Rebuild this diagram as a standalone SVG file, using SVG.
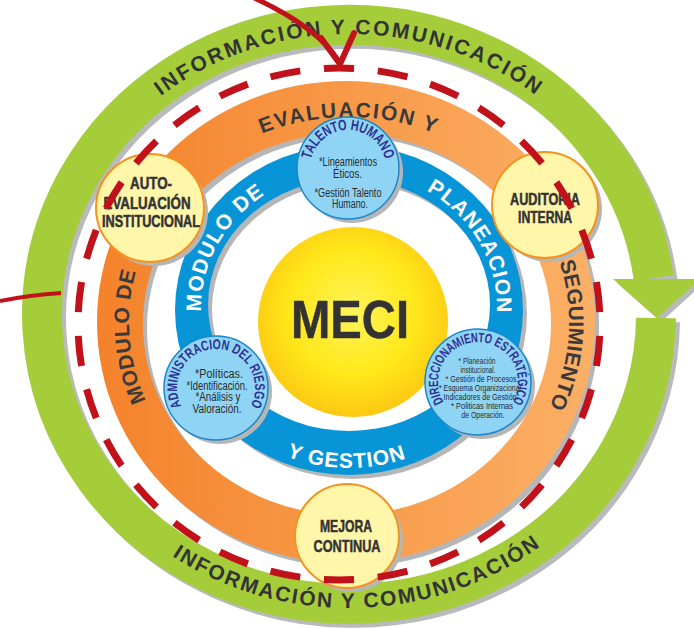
<svg xmlns="http://www.w3.org/2000/svg" width="694" height="629" viewBox="0 0 694 629">
<style>
.sh{fill:#b5b6b8}
.pale{fill:#fff6aa;stroke:#f6921e;stroke-width:2}
.lblue{fill:#8fd4f5;stroke:#1b87c9;stroke-width:1.5}
.band{font-family:"Liberation Sans",Arial,sans-serif;font-weight:bold;font-size:21px;fill:#3a3a3a}
.wband{font-family:"Liberation Sans",Arial,sans-serif;font-weight:bold;font-size:21px;fill:#ffffff}
.gband{font-family:"Liberation Sans",Arial,sans-serif;font-weight:bold;font-size:21px;fill:#333333}
.heavy{font-family:"Liberation Sans Narrow","Liberation Sans",Arial,sans-serif;font-weight:bold;fill:#333333;stroke:#333333;stroke-width:0.5;text-anchor:middle}
.nar{font-family:"Liberation Sans Narrow","Liberation Sans",Arial,sans-serif;fill:#2b2b2b;text-anchor:middle}
.arc{font-family:"Liberation Sans Narrow","Liberation Sans",Arial,sans-serif;font-weight:bold;fill:#2e3192}
.red{fill:none;stroke:#c1121c}
</style>
<defs>
  <linearGradient id="og" x1="0" y1="0" x2="1" y2="0">
    <stop offset="0" stop-color="#f4822b"/>
    <stop offset="1" stop-color="#fbb066"/>
  </linearGradient>
  <radialGradient id="yg" cx="0.5" cy="0.45" r="0.55">
    <stop offset="0" stop-color="#fff45a"/>
    <stop offset="0.6" stop-color="#ffe81a"/>
    <stop offset="1" stop-color="#fcc813"/>
  </radialGradient>
  <path id="pGreenTop" d="M349,594 A300 280 0 0 1 349,34 A300 280 0 0 1 349,594"/>
  <path id="pGreenBot" d="M37,314 A312 294 0 0 0 661,314"/>
  <path id="pOrange" d="M349,527 A220 205 0 0 1 349,117 A220 205 0 0 1 349,527"/>
  <path id="pBlue" d="M349,446 A148 138 0 0 1 349,170 A148 138 0 0 1 349,446"/>
  <path id="pBlueBot" d="M181,307 A168 161 0 0 0 517,307"/>
  <path id="pTal" d="M348,206 A38 38 0 0 1 348,130 A38 38 0 0 1 348,206"/>
  <path id="pAdm" d="M216,427 A39 39 0 0 1 216,349 A39 39 0 0 1 216,427"/>
  <path id="pDir" d="M478,422 A40 40 0 0 1 478,342 A40 40 0 0 1 478,422"/>
  <path id="greenArc" d="M656,318 A307 289.5 0 1 1 653.6,278"/>
</defs>

<g id="green-ring">
  <use href="#greenArc" transform="translate(4,4)" fill="none" stroke="#b9babc" stroke-width="40"/>
  <polygon transform="translate(4,4)" points="613,279 700,279 657,318" fill="#b9babc"/>
  <use href="#greenArc" fill="none" stroke="#a5cd3a" stroke-width="40"/>
  <polygon points="613,279 700,279 657,318" fill="#a5cd3a"/>
  <text class="gband" letter-spacing="2.3"><textPath href="#pGreenTop" startOffset="50%" text-anchor="middle">INFORMACIÓN Y COMUNICACIÓN</textPath></text>
  <text class="gband" letter-spacing="1.9"><textPath href="#pGreenBot" startOffset="51%" text-anchor="middle">INFORMACIÓN Y COMUNICACIÓN</textPath></text>
</g>

<g id="orange-ring">
  <path transform="translate(4,4)" class="sh" fill-rule="evenodd" d="M97,322 A249 241 0 1 1 595,322 A249 241 0 1 1 97,322 Z M143,324 A204 191 0 1 0 551,324 A204 191 0 1 0 143,324 Z"/>
  <path fill="url(#og)" fill-rule="evenodd" d="M97,322 A249 241 0 1 1 595,322 A249 241 0 1 1 97,322 Z M143,324 A204 191 0 1 0 551,324 A204 191 0 1 0 143,324 Z"/>
  <text class="band" letter-spacing="0.5"><textPath href="#pOrange" startOffset="23.9%" text-anchor="middle">MODULO DE</textPath></text>
  <text class="band" letter-spacing="1.8"><textPath href="#pOrange" startOffset="50%" text-anchor="middle">EVALUACIÓN Y</textPath></text>
  <text class="band" letter-spacing="0.2"><textPath href="#pOrange" startOffset="76%" text-anchor="middle">SEGUIMIENTO</textPath></text>
</g>

<g id="blue-ring">
  <path transform="translate(4,4)" class="sh" fill-rule="evenodd" d="M175,310 A174 165 0 1 1 523,310 A174 165 0 1 1 175,310 Z M208,305 A141 126 0 1 0 490,305 A141 126 0 1 0 208,305 Z"/>
  <path fill="#0795d7" fill-rule="evenodd" d="M175,310 A174 165 0 1 1 523,310 A174 165 0 1 1 175,310 Z M208,305 A141 126 0 1 0 490,305 A141 126 0 1 0 208,305 Z"/>
  <text class="wband" letter-spacing="1.3"><textPath href="#pBlue" startOffset="32.4%" text-anchor="middle">MODULO DE</textPath></text>
  <text class="wband" letter-spacing="1"><textPath href="#pBlue" startOffset="67.3%" text-anchor="middle">PLANEACION</textPath></text>
  <text class="wband" letter-spacing="1"><textPath href="#pBlueBot" startOffset="49.5%" text-anchor="middle">Y GESTION</textPath></text>
</g>

<g id="meci">
  <circle cx="353" cy="322" r="95" fill="url(#yg)"/>
  <text x="350" y="338" class="heavy" font-size="53" stroke-width="1.5" fill="#3a3a3a" textLength="118" lengthAdjust="spacingAndGlyphs">MECI</text>
</g>

<g id="talento-humano">
  <circle class="sh" cx="352" cy="172" r="51"/>
  <circle class="lblue" cx="348" cy="168" r="51"/>
  <text class="arc" font-size="15" font-weight="normal"><textPath href="#pTal" startOffset="50%" text-anchor="middle" textLength="102" lengthAdjust="spacingAndGlyphs">TALENTO HUMANO</textPath></text>
  <text class="nar" font-size="12.5" x="348" y="166" textLength="58" lengthAdjust="spacingAndGlyphs">*Lineamientos</text>
  <text class="nar" font-size="12.5" x="347.5" y="178" textLength="29" lengthAdjust="spacingAndGlyphs">Éticos.</text>
  <text class="nar" font-size="12.5" x="348" y="197" textLength="67" lengthAdjust="spacingAndGlyphs">*Gestión Talento</text>
  <text class="nar" font-size="12.5" x="350" y="208" textLength="36" lengthAdjust="spacingAndGlyphs">Humano.</text>
</g>

<g id="administracion-riesgo">
  <circle class="sh" cx="220" cy="392" r="52"/>
  <circle class="lblue" cx="216" cy="388" r="52"/>
  <text class="arc" font-size="14"><textPath href="#pAdm" startOffset="50%" text-anchor="middle" textLength="160" lengthAdjust="spacingAndGlyphs">ADMINISTRACION DEL RIESGO</textPath></text>
  <text class="nar" font-size="12.5" x="219" y="378" textLength="48" lengthAdjust="spacingAndGlyphs">*Políticas.</text>
  <text class="nar" font-size="12.5" x="217" y="390" textLength="61" lengthAdjust="spacingAndGlyphs">*Identificación.</text>
  <text class="nar" font-size="12.5" x="218" y="401" textLength="45" lengthAdjust="spacingAndGlyphs">*Análisis y</text>
  <text class="nar" font-size="12.5" x="217" y="413" textLength="49" lengthAdjust="spacingAndGlyphs">Valoración.</text>
</g>

<g id="direccionamiento-estrategico">
  <circle class="sh" cx="482" cy="386" r="53"/>
  <circle class="lblue" cx="478" cy="382" r="53"/>
  <text class="arc" font-size="13.5"><textPath href="#pDir" startOffset="50%" text-anchor="middle" textLength="168" lengthAdjust="spacingAndGlyphs">DIRECCIONAMIENTO ESTRATÉGICO</textPath></text>
  <text class="nar" font-size="9.5" x="477" y="364" textLength="37" lengthAdjust="spacingAndGlyphs">* Planeación</text>
  <text class="nar" font-size="9.5" x="478" y="373" textLength="35" lengthAdjust="spacingAndGlyphs">institucional.</text>
  <text class="nar" font-size="9.5" x="482" y="382" textLength="73" lengthAdjust="spacingAndGlyphs">* Gestión de Procesos.</text>
  <text class="nar" font-size="9.5" x="481" y="391" textLength="84" lengthAdjust="spacingAndGlyphs">* Esquema Organizacional.</text>
  <text class="nar" font-size="9.5" x="481" y="400" textLength="75" lengthAdjust="spacingAndGlyphs">Indicadores de Gestión.</text>
  <text class="nar" font-size="9.5" x="482" y="409" textLength="62" lengthAdjust="spacingAndGlyphs">* Politicas Internas</text>
  <text class="nar" font-size="9.5" x="483" y="418" textLength="43" lengthAdjust="spacingAndGlyphs">de Operación.</text>
</g>

<g id="autoevaluacion">
  <circle class="sh" cx="154" cy="212" r="54"/>
  <circle class="pale" cx="150" cy="208" r="54"/>
  <text class="heavy" font-size="16" x="151" y="189" textLength="42" lengthAdjust="spacingAndGlyphs">AUTO-</text>
  <text class="heavy" font-size="16" x="147" y="209" textLength="87" lengthAdjust="spacingAndGlyphs">EVALUACIÓN</text>
  <text class="heavy" font-size="16" x="151" y="227" textLength="98" lengthAdjust="spacingAndGlyphs">INSTITUCIONAL</text>
</g>

<g id="auditoria-interna">
  <circle class="sh" cx="549" cy="209" r="53"/>
  <circle class="pale" cx="545" cy="205" r="53"/>
  <text class="heavy" font-size="16" x="545" y="205" textLength="70" lengthAdjust="spacingAndGlyphs">AUDITORIA</text>
  <text class="heavy" font-size="16" x="545" y="223" textLength="54" lengthAdjust="spacingAndGlyphs">INTERNA</text>
</g>

<g id="mejora-continua">
  <circle class="sh" cx="351" cy="540" r="52"/>
  <circle class="pale" cx="347" cy="536" r="52"/>
  <text class="heavy" font-size="17" x="346" y="532" textLength="52" lengthAdjust="spacingAndGlyphs">MEJORA</text>
  <text class="heavy" font-size="17" x="347" y="552" textLength="67" lengthAdjust="spacingAndGlyphs">CONTINUA</text>
</g>

<g id="connectors">
  <path class="red" stroke-width="7" d="M339,68 A261 256 0 1 1 339,580 A261 256 0 1 1 339,68" pathLength="300" stroke-dasharray="5.6 4.4" stroke-dashoffset="2.8"/>
  <path class="red" stroke-width="5" d="M250,-4 C285,12 322,33 340,63"/>
  <path class="red" stroke-width="6" stroke-linecap="round" d="M321,38 L340,64 L354,33"/>
  <path class="red" stroke-width="4" d="M0,301 Q30,295 61,293"/>
</g>
</svg>
